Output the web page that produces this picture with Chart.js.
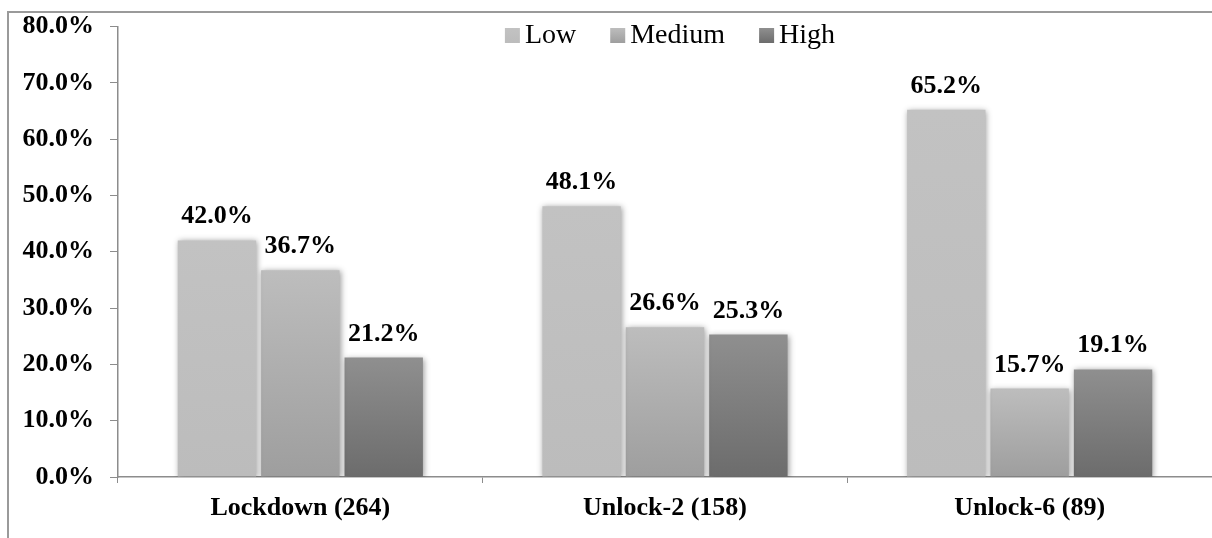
<!DOCTYPE html>
<html>
<head>
<meta charset="utf-8">
<title>Severity by phase</title>
<script src="https://cdn.jsdelivr.net/npm/chart.js@4.4.1/dist/chart.umd.min.js"></script>
<style>
  html, body { margin: 0; padding: 0; background: #ffffff; }
  #wrap { position: relative; width: 1212px; height: 538px; }
</style>
</head>
<body>
<div id="wrap"><canvas id="chart" width="1212" height="538"></canvas></div>
<script>
// Phases (with respondent counts) and the share of each level, in percent
const categories = ['Lockdown (264)', 'Unlock-2 (158)', 'Unlock-6 (89)'];
const seriesNames = ['Low', 'Medium', 'High'];
const lowValues = [42.0, 48.1, 65.2];
const mediumValues = [36.7, 26.6, 15.7];
const highValues = [21.2, 25.3, 19.1];
const yTicks = [0, 10, 20, 30, 40, 50, 60, 70, 80];

const SERIF = '"Liberation Serif", "Times New Roman", serif';

// top / bottom shades of each series' vertical gradient
const shades = [
  ['#c2c2c2', '#bcbcbc'],
  ['#bdbdbd', '#9e9e9e'],
  ['#8f8f8f', '#6c6c6c']
];

function barFill(i) {
  return (ctx) => {
    const chart = ctx.chart;
    const area = chart.chartArea;
    const ys = chart.scales && chart.scales.y;
    if (!area || !ys || ctx.type !== 'data') return shades[i][0];
    const top = ys.getPixelForValue(ctx.raw);
    const bottom = ys.getPixelForValue(0);
    if (!isFinite(top) || !isFinite(bottom) || bottom - top < 1) return shades[i][0];
    const g = chart.ctx.createLinearGradient(0, top, 0, bottom);
    g.addColorStop(0, shades[i][0]);
    g.addColorStop(1, shades[i][1]);
    return g;
  };
}

// outer frame lines (left and top)
const framePlugin = {
  id: 'frame',
  beforeDraw(chart) {
    const c = chart.ctx;
    c.save();
    c.strokeStyle = '#9a9a9a';
    c.lineWidth = 2;
    c.beginPath();
    c.moveTo(8, 538);
    c.lineTo(8, 12);
    c.lineTo(1212, 12);
    c.stroke();
    c.restore();
  }
};

// soft shadow behind bars
const shadowPlugin = {
  id: 'barShadow',
  beforeDatasetDraw(chart) {
    const c = chart.ctx;
    c.save();
    c.shadowColor = 'rgba(0,0,0,0.4)';
    c.shadowBlur = 6;
    c.shadowOffsetX = 1;
    c.shadowOffsetY = 1;
  },
  afterDatasetDraw(chart) {
    chart.ctx.restore();
  }
};

// value labels above each bar
const valueLabels = {
  id: 'valueLabels',
  afterDatasetsDraw(chart) {
    const c = chart.ctx;
    c.save();
    c.font = 'bold 26px ' + SERIF;
    c.fillStyle = '#000';
    c.textAlign = 'center';
    c.textBaseline = 'alphabetic';
    chart.data.datasets.forEach((ds, di) => {
      const meta = chart.getDatasetMeta(di);
      meta.data.forEach((bar, i) => {
        c.fillText(ds.data[i].toFixed(1) + '%', bar.x, bar.y - 17);
      });
    });
    c.restore();
  }
};

// legend drawn inside the plot, across the top
const insideLegend = {
  id: 'insideLegend',
  afterDraw(chart) {
    const c = chart.ctx;
    c.save();
    c.font = '28px ' + SERIF;
    c.textBaseline = 'alphabetic';
    const box = 15, boxGap = 5, itemGap = 34;
    const items = chart.data.datasets.map((ds) => ({ label: ds.label, w: c.measureText(ds.label).width }));
    const total = items.reduce((s, it) => s + box + boxGap + it.w, 0) + itemGap * (items.length - 1);
    let x = 670 - total / 2;
    items.forEach((it, i) => {
      const g = c.createLinearGradient(0, 28, 0, 43);
      g.addColorStop(0, shades[i][0]);
      g.addColorStop(1, shades[i][1]);
      c.fillStyle = g;
      c.fillRect(x, 28, box, box);
      c.fillStyle = '#000';
      c.fillText(it.label, x + box + boxGap, 43);
      x += box + boxGap + it.w + itemGap;
    });
    c.restore();
  }
};

const valueSets = [lowValues, mediumValues, highValues];

new Chart(document.getElementById('chart'), {
  type: 'bar',
  data: {
    labels: categories,
    datasets: seriesNames.map((name, i) => ({
      label: name,
      data: valueSets[i],
      backgroundColor: barFill(i),
      borderWidth: 0,
      categoryPercentage: 0.686,
      barPercentage: 0.94
    }))
  },
  options: {
    responsive: false,
    animation: false,
    devicePixelRatio: 1,
    layout: { padding: { top: 26.5, left: 0, right: 0, bottom: 0 } },
    plugins: {
      legend: { display: false },
      tooltip: { enabled: false }
    },
    scales: {
      x: {
        grid: { display: true, drawOnChartArea: false, offset: true, tickLength: 6, color: '#8c8c8c', lineWidth: 1 },
        border: { display: true, color: '#8c8c8c', width: 1.5 },
        ticks: {
          color: '#000',
          font: { family: SERIF, size: 26, weight: 'bold' },
          padding: 10,
          maxRotation: 0
        },
        afterFit(scale) { scale.height = 61; }
      },
      y: {
        min: 0,
        max: 80,
        afterBuildTicks(scale) { scale.ticks = yTicks.map((v) => ({ value: v })); },
        grid: { display: true, drawOnChartArea: false, tickLength: 8, color: '#8c8c8c', lineWidth: 1 },
        border: { display: true, color: '#8c8c8c', width: 1.5 },
        ticks: {
          color: '#000',
          font: { family: SERIF, size: 26, weight: 'bold', lineHeight: 0.7 },
          padding: 16,
          callback: (v) => Number(v).toFixed(1) + '%'
        },
        afterFit(scale) { scale.width = 118; }
      }
    }
  },
  plugins: [framePlugin, shadowPlugin, valueLabels, insideLegend]
});
</script>
</body>
</html>
